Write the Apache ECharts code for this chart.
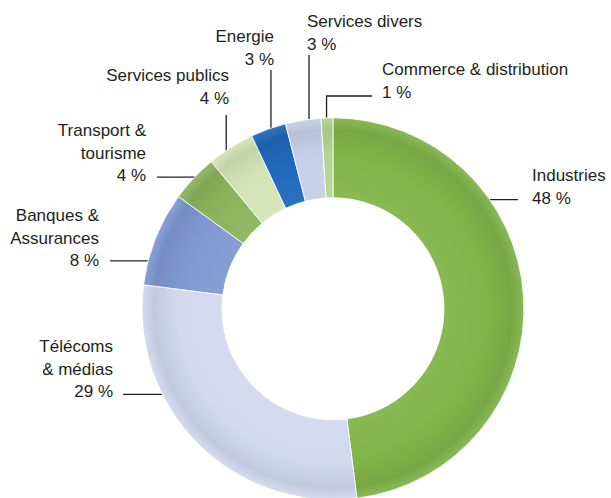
<!DOCTYPE html>
<html>
<head>
<meta charset="utf-8">
<script src="https://cdn.jsdelivr.net/npm/echarts@6/dist/echarts.min.js"></script>
<style>
  html, body { margin: 0; padding: 0; background: #ffffff; }
  #chart { width: 611px; height: 498px; }
</style>
</head>
<body>
<div id="chart"></div>
<script>
// Sector breakdown (share of total, %)
const sectors = [
  'Industries',
  'Télécoms\n& médias',
  'Banques &\nAssurances',
  'Transport &\ntourisme',
  'Services publics',
  'Energie',
  'Services divers',
  'Commerce & distribution'
];
const shares = [48, 29, 8, 4, 4, 3, 3, 1];
const sectorColors = ['#80b448', '#d2d8ee', '#7f98d2', '#8cb35b', '#d3e3b7', '#1f68bb', '#c6cee9', '#b4d48f'];

// Label placement: [x, y of text block centre, alignment]
const labelPos = [
  [532, 187, 'left'],
  [113, 369, 'right'],
  [99, 238, 'right'],
  [146, 153, 'right'],
  [229, 87, 'right'],
  [274, 48, 'right'],
  [307, 33, 'left'],
  [382, 81, 'left']
];
// Where each leader line touches the ring: [angle in degrees (ccw from 3 o'clock), radius px]
const guideAnchor = [
  [38.1, 177], [207.4, 186], [164.9, 184], [134.6, 185],
  [125.7, 183], [109.6, 185], [97.7, 179], [92.1, 176]
];
// Leader line ends: 'h' horizontal to x, 'v' vertical to y, 'e' up to y then across to x
const guideEnd = [
  ['h', 518], ['h', 123], ['h', 110], ['h', 157],
  ['v', 115], ['v', 70], ['v', 55], ['e', 96, 372]
];

const CENTER = ['54.5%', '62%'];
const INNER_R = 111;
const OUTER_R = 191;

const el = document.getElementById('chart');
const chart = echarts.init(el, null, { renderer: 'svg' });
const W = el.clientWidth, H = el.clientHeight;
const cx = W * parseFloat(CENTER[0]) / 100;
const cy = H * parseFloat(CENTER[1]) / 100;

function mix(hex, target, t) {
  const n = parseInt(hex.slice(1), 16);
  const r = (n >> 16) & 255, g = (n >> 8) & 255, b = n & 255;
  const m = (c) => Math.round(c + (target - c) * t);
  return 'rgb(' + m(r) + ',' + m(g) + ',' + m(b) + ')';
}

// soft bevel across the ring thickness
function ringFill(hex) {
  const k = INNER_R / OUTER_R;
  return {
    type: 'radial', x: cx, y: cy, r: OUTER_R, global: true,
    colorStops: [
      { offset: 0, color: mix(hex, 255, 0.06) },
      { offset: k, color: mix(hex, 255, 0.06) },
      { offset: k + (1 - k) * 0.55, color: hex },
      { offset: k + (1 - k) * 0.85, color: mix(hex, 0, 0.07) },
      { offset: 1, color: mix(hex, 255, 0.08) }
    ]
  };
}

const data = sectors.map((name, i) => ({
  name: name,
  value: shares[i],
  itemStyle: { color: ringFill(sectorColors[i]) }
}));

chart.setOption({
  backgroundColor: '#ffffff',
  animation: false,
  series: [{
    type: 'pie',
    center: CENTER,
    radius: [INNER_R, OUTER_R],
    startAngle: 90,
    clockwise: true,
    avoidLabelOverlap: false,
    silent: true,
    data: data,
    itemStyle: { borderColor: 'rgba(255,255,255,0.85)', borderWidth: 1 },
    label: {
      show: true,
      position: 'outside',
      formatter: '{b}\n{c} %',
      color: '#231f20',
      fontFamily: '"Liberation Sans", Arial, sans-serif',
      fontSize: 17,
      lineHeight: 22.5
    },
    labelLine: {
      show: true,
      lineStyle: { color: '#231f20', width: 1.3 }
    },
    labelLayout: function (params) {
      const i = params.dataIndex;
      const p = labelPos[i];
      const a = guideAnchor[i][0] * Math.PI / 180;
      const ax = cx + guideAnchor[i][1] * Math.cos(a);
      const ay = cy - guideAnchor[i][1] * Math.sin(a);
      const g = guideEnd[i];
      let pts;
      if (g[0] === 'h') {
        pts = [[ax, ay], [ax, ay], [g[1], ay]];
      } else if (g[0] === 'v') {
        pts = [[ax, ay], [ax, ay], [ax, g[1]]];
      } else {
        pts = [[ax, ay], [ax, g[1]], [g[2], g[1]]];
      }
      return {
        x: p[0],
        y: p[1],
        align: p[2],
        verticalAlign: 'middle',
        labelLinePoints: pts
      };
    }
  }]
});
</script>
</body>
</html>
